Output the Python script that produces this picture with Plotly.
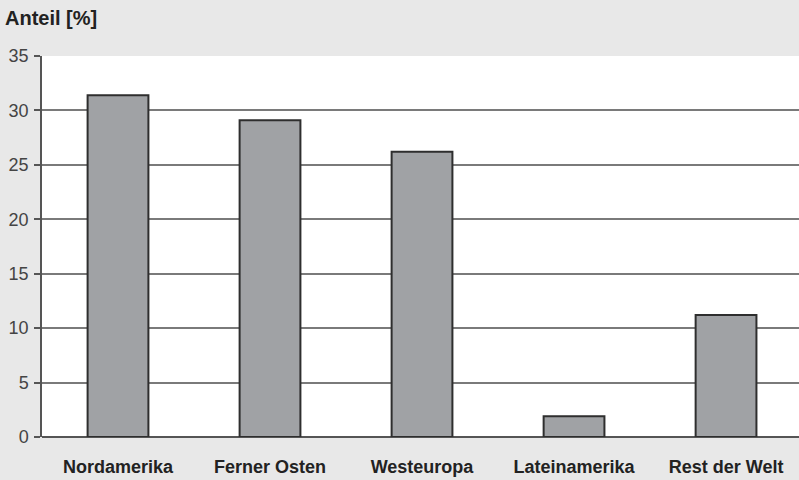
import plotly.graph_objects as go

regions = ["Nordamerika", "Ferner Osten", "Westeuropa", "Lateinamerika", "Rest der Welt"]
shares = [31.4, 29.1, 26.2, 1.9, 11.2]
y_ticks = [0, 5, 10, 15, 20, 25, 30, 35]

fig = go.Figure(
    go.Bar(
        x=list(range(len(regions))),
        y=shares,
        width=0.4,
        marker=dict(color="#a0a2a5", line=dict(color="#2e2e2e", width=2)),
    )
)

fig.update_layout(
    width=799,
    height=480,
    margin=dict(l=42, r=0, t=56, b=43),
    paper_bgcolor="#e8e8e8",
    plot_bgcolor="#ffffff",
    showlegend=False,
    font=dict(family="Liberation Sans, Arial, sans-serif", color="#333333"),
    annotations=[
        dict(
            text="<b>Anteil [%]</b>",
            xref="paper", yref="paper",
            x=-39 / 757, y=1 + 38 / 381,
            xanchor="left", yanchor="middle",
            showarrow=False,
            font=dict(size=20, color="#222222"),
        )
    ],
)

fig.update_xaxes(
    range=[-0.5, 4.48],
    tickmode="array",
    tickvals=list(range(len(regions))),
    ticktext=[f"<b>{r}</b>" for r in regions],
    tickfont=dict(size=18, color="#222222"),
    ticks="",
    showgrid=False,
    zeroline=False,
    showline=False,
    ticklabelstandoff=17,
)

fig.update_yaxes(
    range=[0, 35],
    tickmode="array",
    tickvals=y_ticks,
    tickfont=dict(size=18, color="#444444"),
    ticks="outside",
    ticklen=6,
    tickwidth=1.5,
    tickcolor="#555555",
    showgrid=True,
    gridcolor="#7a7a7a",
    gridwidth=1.5,
    zeroline=True,
    zerolinecolor="#555555",
    zerolinewidth=1.5,
    showline=True,
    linecolor="#555555",
    linewidth=1.5,
    ticklabelstandoff=2,
)

fig.write_html("out.html")
